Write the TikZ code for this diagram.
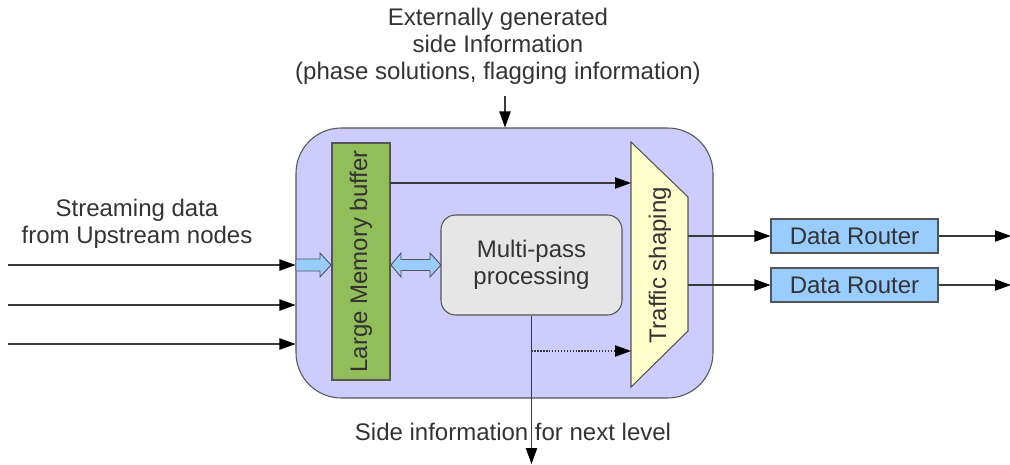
\documentclass[tikz,border=0pt]{standalone}
\usepackage{fontspec}
\setmainfont{Liberation Sans}
\usetikzlibrary{arrows.meta}
\definecolor{txt}{HTML}{333333}
\definecolor{ln}{HTML}{3A3A3A}
\definecolor{bord}{HTML}{555555}
\definecolor{outerfill}{HTML}{CCCCFF}
\definecolor{bufgreen}{HTML}{92BE5A}
\definecolor{trafyellow}{HTML}{FFFFCC}
\definecolor{mpgrey}{HTML}{E6E6E6}
\definecolor{routerblue}{HTML}{99CCFF}
\tikzset{
  conn/.style={draw=ln,line width=0.8pt,-{Triangle[length=12pt,width=8.5pt,color=black]}},
  outerbox/.style={draw=bord,fill=outerfill,line width=0.8pt,rounded corners=34pt,inner sep=0pt,
    minimum width=312.75pt,minimum height=202.5pt},
  membox/.style={draw=bord,fill=bufgreen,line width=0.8pt,inner sep=0pt,
    minimum width=43.5pt,minimum height=177.75pt},
  mpbox/.style={draw=bord,fill=mpgrey,line width=0.8pt,rounded corners=11pt,inner sep=0pt,
    minimum width=135.75pt,minimum height=75pt,align=center},
  trapstyle/.style={draw=bord,fill=trafyellow,line width=0.8pt},
  router/.style={draw=bord,fill=routerblue,line width=0.8pt,inner sep=0pt,
    minimum width=125.25pt,minimum height=25.5pt},
  hollow/.style={draw=bord,fill=routerblue,line width=0.7pt,line join=miter},
  lbl/.style={align=center,inner sep=0pt}
}
\begin{document}
\begin{tikzpicture}[x=0.75pt,y=-0.75pt,font=\fontsize{18}{20.3}\selectfont,
  every node/.append style={text=txt}]
\useasboundingbox (0,0) rectangle (1010,464);

% main enclosure
\node[outerbox] (outer) at (504.5,263) {};
\node[membox] (buf) at (361,261.5) {\rotatebox{90}{Large Memory buffer}};
\node[mpbox] (mp) at (531.5,265) {Multi-pass\\processing};

% traffic shaping trapezoid
\coordinate (t1) at (631,142);
\coordinate (t2) at (688,197);
\coordinate (t3) at (688,331);
\coordinate (t4) at (631,387);
\draw[trapstyle] (t1) -- (t2) -- (t3) -- (t4) -- cycle;
\node[rotate=90,inner sep=0pt] (traf) at (660,265) {Traffic shaping};

% routers
\node[router] (r1) at (854.5,236) {Data Router};
\node[router] (r2) at (854.5,285) {Data Router};

% labels
\node[lbl] (ext) at (498,46) {Externally generated\\side Information\\(phase solutions, flagging information)};
\node[lbl] (stream) at (137,224) {Streaming data\\from Upstream nodes};
\node[lbl] (side) at (513,432) {Side information for next level};

% coordinates for free ends
\coordinate (in1) at (8,265);
\coordinate (in2) at (8,305);
\coordinate (in3) at (8,344);
\coordinate (exttop) at (505,96);
\coordinate (o1) at (1011,236);
\coordinate (o2) at (1011,285);
\coordinate (sideout) at (531.5,464);
\coordinate (bufout) at (390,183);
\coordinate (dotstart) at (531.5,351);

% input arrows
\draw[conn] (in1) -- (outer.west |- in1);
\draw[conn] (in2) -- (outer.west |- in2);
\draw[conn] (in3) -- (outer.west |- in3);

% top arrow
\draw[conn] (exttop) -- (exttop |- outer.north);

% buffer to traffic shaping
\draw[conn] (bufout) -- (t1 |- bufout);
% dotted from side path
\draw[conn,dash pattern=on 1pt off 1.2pt] (dotstart) -- (t1 |- dotstart);
% side info down
\draw[conn] (mp.south) -- (sideout);

% traffic to routers
\draw[conn] (t2 |- r1.west) -- (r1.west);
\draw[conn] (t2 |- r2.west) -- (r2.west);
\draw[conn] (r1.east) -- (o1);
\draw[conn] (r2.east) -- (o2);

% hollow arrows
\draw[hollow] (296,259) -- (320,259) -- (320,253) -- (331,265) -- (320,277) -- (320,271) -- (296,271) -- cycle;
\draw[hollow] (391,265) -- (401,253) -- (401,259.5) -- (430,259.5) -- (430,253) -- (441,265)
  -- (430,277) -- (430,270.5) -- (401,270.5) -- (401,277) -- cycle;
\end{tikzpicture}
\end{document}
